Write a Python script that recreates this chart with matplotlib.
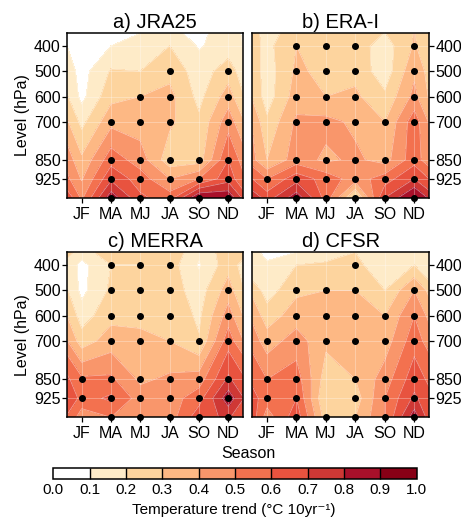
import numpy as np
import matplotlib
matplotlib.use('Agg')
import matplotlib.pyplot as plt
from matplotlib.colors import ListedColormap, BoundaryNorm
import matplotlib.colorbar as mcolorbar

plt.rcParams['font.family'] = ['Liberation Sans', 'DejaVu Sans']

seasons = ['JF', 'MA', 'MJ', 'JA', 'SO', 'ND']
# 300 hPa row only shapes the fill above 400 hPa (axis is cut at 350)
levels_hpa = [300, 400, 500, 600, 700, 850, 925, 1000]
yticks = [400, 500, 600, 700, 850, 925]

# trends (degC / 10yr), rows = levels_hpa, cols = seasons
jra25 = [[0.00, 0.02, 0.05, 0.10, 0.05, 0.15],
         [0.05, 0.10, 0.15, 0.20, 0.09, 0.15],
         [0.06, 0.21, 0.20, 0.27, 0.15, 0.25],
         [0.07, 0.27, 0.30, 0.33, 0.17, 0.35],
         [0.17, 0.37, 0.35, 0.32, 0.22, 0.46],
         [0.32, 0.56, 0.45, 0.24, 0.25, 0.60],
         [0.39, 0.68, 0.55, 0.40, 0.50, 0.66],
         [0.48, 0.86, 0.62, 0.55, 0.90, 0.88]]

erai = [[0.16, 0.22, 0.20, 0.25, 0.24, 0.30],
        [0.17, 0.30, 0.25, 0.25, 0.15, 0.31],
        [0.15, 0.32, 0.27, 0.27, 0.14, 0.38],
        [0.15, 0.35, 0.30, 0.32, 0.22, 0.43],
        [0.22, 0.42, 0.43, 0.38, 0.30, 0.56],
        [0.30, 0.45, 0.38, 0.42, 0.36, 0.56],
        [0.50, 0.66, 0.56, 0.45, 0.55, 0.70],
        [0.65, 0.86, 0.56, 0.18, 0.70, 0.92]]

merra = [[0.22, 0.25, 0.25, 0.30, 0.15, 0.25],
         [0.07, 0.20, 0.20, 0.25, 0.09, 0.26],
         [0.07, 0.22, 0.25, 0.25, 0.15, 0.35],
         [0.15, 0.27, 0.28, 0.28, 0.18, 0.45],
         [0.25, 0.35, 0.32, 0.30, 0.21, 0.56],
         [0.52, 0.52, 0.38, 0.42, 0.45, 0.72],
         [0.56, 0.62, 0.45, 0.45, 0.56, 0.86],
         [0.45, 0.50, 0.42, 0.45, 0.66, 0.72]]

cfsr = [[0.00, 0.00, 0.06, 0.18, 0.15, 0.16],
        [0.12, 0.20, 0.22, 0.22, 0.15, 0.20],
        [0.15, 0.28, 0.30, 0.30, 0.20, 0.40],
        [0.25, 0.35, 0.33, 0.32, 0.30, 0.50],
        [0.35, 0.45, 0.32, 0.32, 0.35, 0.56],
        [0.50, 0.55, 0.25, 0.30, 0.45, 0.66],
        [0.55, 0.60, 0.20, 0.25, 0.50, 0.72],
        [0.45, 0.66, 0.25, 0.30, 0.50, 0.86]]

# significant points: (season index, level)
sig_jra25 = [(3, 500), (5, 500), (2, 600), (3, 600), (5, 600),
             (1, 700), (2, 700), (3, 700), (5, 700)] + \
            [(i, p) for p in (850, 925, 1000) for i in (1, 2, 3, 4, 5)]
sig_erai = [(i, p) for p in (400, 500, 600) for i in (1, 2, 3, 5)] + \
           [(i, p) for p in (700, 850, 1000) for i in (1, 2, 3, 4, 5)] + \
           [(i, 925) for i in range(6)]
sig_merra = [(i, 400) for i in (1, 2, 3)] + \
            [(i, p) for p in (500, 600) for i in (1, 2, 3, 5)] + \
            [(i, 700) for i in (1, 2, 3, 4, 5)] + \
            [(i, p) for p in (850, 925) for i in range(6)] + \
            [(i, 1000) for i in (1, 2, 3, 4, 5)]
sig_cfsr = [(3, 400)] + [(i, 500) for i in (1, 2, 3, 5)] + \
           [(i, 600) for i in (1, 2, 3, 4, 5)] + [(i, 700) for i in range(6)] + \
           [(i, p) for p in (850, 925) for i in (0, 1, 3, 4, 5)] + \
           [(i, 1000) for i in (1, 2, 3, 4, 5)]

titles = ['a) JRA25', 'b) ERA-I', 'c) MERRA', 'd) CFSR']
cbar_ticks = [0.0, 0.1, 0.2, 0.3, 0.4, 0.5, 0.6, 0.7, 0.8, 0.9, 1.0]
colours = ['#ffffff', '#feebc8', '#fdd49e', '#fdb884', '#f9966b',
           '#f3714f', '#e8533f', '#cf3835', '#a8102a', '#880016']

cmap = ListedColormap(colours)
norm = BoundaryNorm(cbar_ticks, cmap.N)

fig = plt.figure(figsize=(4.61, 5.20), dpi=100)
W, H = 461., 520.
boxes = [(67, 33.3, 243, 197.7), (252.3, 33.3, 429, 197.7),
         (67, 252.3, 243, 417.3), (252.3, 252.3, 429, 417.3)]

datasets = [jra25, erai, merra, cfsr]
sigs = [sig_jra25, sig_erai, sig_merra, sig_cfsr]

for k, (x0, y0, x1, y1) in enumerate(boxes):
    ax = fig.add_axes([x0 / W, 1 - y1 / H, (x1 - x0) / W, (y1 - y0) / H])
    z = np.array(datasets[k])
    # seasons wrap round: pad with ND on the left, JF on the right
    zz = np.hstack([z[:, -1:], z, z[:, :1]])
    xx = np.arange(-1, 7)
    ax.contourf(xx, levels_hpa, zz, levels=cbar_ticks, cmap=cmap, norm=norm)
    ax.contour(xx, levels_hpa, zz, levels=cbar_ticks, colors='white',
               linewidths=0.5, alpha=0.5)
    for xv in range(6):
        ax.axvline(xv, color='white', lw=0.6, alpha=0.35)
    for yv in yticks:
        ax.axhline(yv, color='white', lw=0.6, alpha=0.35)
    sx = [s[0] for s in sigs[k]]
    sy = [s[1] for s in sigs[k]]
    ax.plot(sx, sy, 'o', color='black', ms=4, clip_on=False, zorder=5)
    ax.set_xlim(-0.5, 5.5)
    ax.set_ylim(1000, 350)
    ax.set_xticks(range(6))
    ax.set_xticklabels(seasons)
    ax.set_yticks(yticks)
    ax.tick_params(direction='out', length=3.5, width=0.9, labelsize=11.5)
    ax.tick_params(axis='y', pad=1)
    ax.tick_params(axis='x', pad=3)
    if k % 2 == 1:
        ax.yaxis.tick_right()
    else:
        ax.set_ylabel('Level (hPa)', fontsize=11.5, labelpad=3)
    for sp in ax.spines.values():
        sp.set_linewidth(1.1)
    ax.set_title(titles[k], fontsize=14.5, pad=4)

fig.text(248 / W, 1 - 453 / H, 'Season', ha='center', va='center', fontsize=11.5)

cax = fig.add_axes([53.3 / W, 1 - 479 / H, (416.7 - 53.3) / W, 10.7 / H])
cb = mcolorbar.ColorbarBase(cax, cmap=cmap, norm=norm, orientation='horizontal',
                            ticks=cbar_ticks, drawedges=True)
cb.dividers.set_linewidth(1.0)
cb.outline.set_linewidth(1.1)
cax.tick_params(length=0, labelsize=11, pad=3)
cax.set_xticklabels(['%.1f' % t for t in cbar_ticks])
fig.text(234 / W, 1 - 510 / H, 'Temperature trend (°C 10yr⁻¹)',
         ha='center', va='center', fontsize=11)

fig.savefig('out.png', dpi=100)
